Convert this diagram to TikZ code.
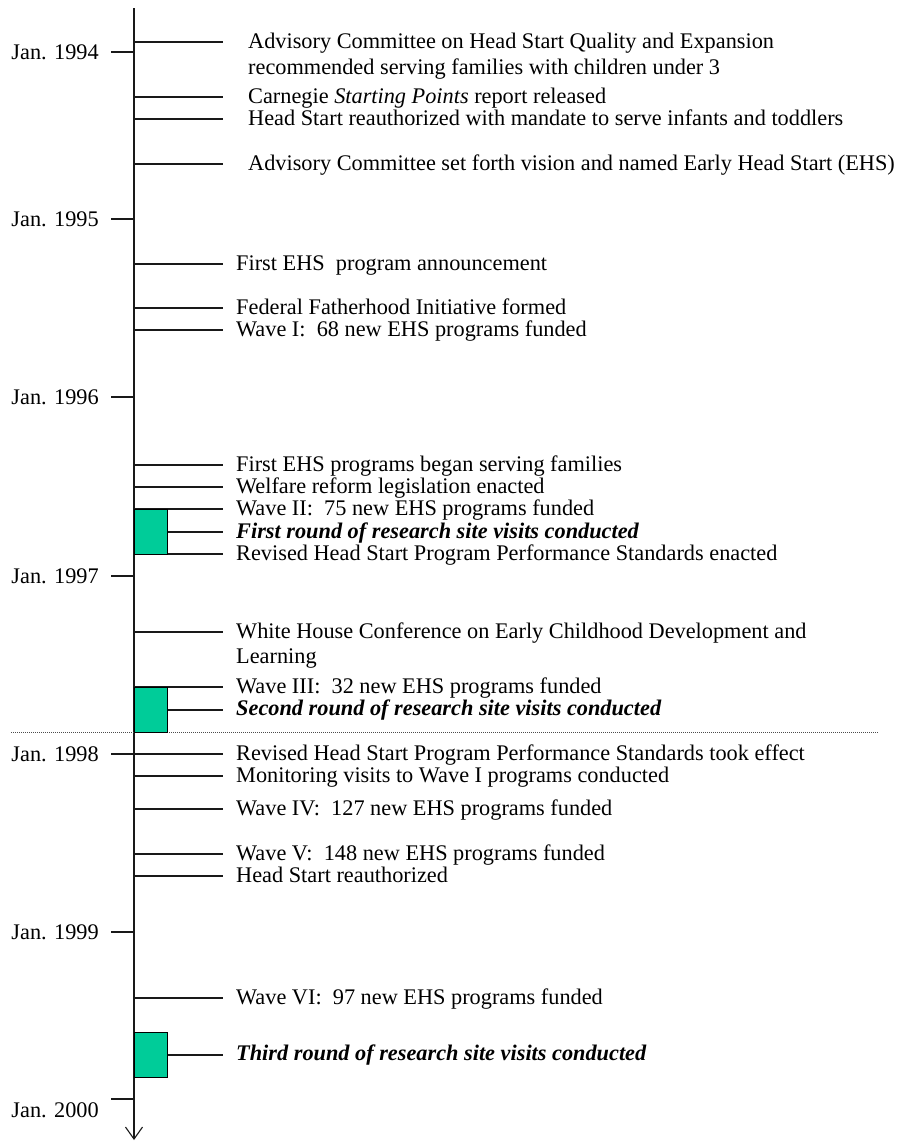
\documentclass[tikz,border=0pt]{standalone}
\usepackage{fontspec}
\setmainfont{Liberation Serif}
\usetikzlibrary{arrows.meta}
\definecolor{visitgreen}{RGB}{0,204,153}
\newcommand\evline[4]{% name, y, text x, text
  \coordinate (a#1) at (134,#2);
  \node[evtext] (#1) at (#3,#2+6.5) {#4};
  \draw[rule] (a#1) -- (a#1 -| lineend);}
\newcommand\yearmark[4]{% name, tick y, label baseline y, year
  \coordinate (y#1) at (134,#2);
  \node[yeartext] (l#1) at (99,#3) {Jan. #4};
  \draw[rule] (y#1) -- ++(-23,0);}
\begin{document}
\begin{tikzpicture}[x=1pt,y=-1pt,
  rule/.style={line width=1.1pt, draw=black!90},
  evtext/.style={anchor=base west, inner sep=0pt, font=\fontsize{22.3}{25.5}\selectfont},
  yeartext/.style={anchor=base east, inner sep=0pt, font=\fontsize{22.3}{25.5}\selectfont},
  visitbox/.style={fill=visitgreen, draw=black, line width=1pt, inner sep=0pt,
    minimum width=33pt, minimum height=45pt, anchor=north west},
  sep/.style={line width=0.9pt, draw=black!70, dash pattern=on 1pt off 1pt},
]
\useasboundingbox (0,0) rectangle (903,1141);
\coordinate (lineend) at (223,0);
% axis
\coordinate (atop) at (134,8);
\coordinate (abot) at (134,1140);
\draw[rule, -{Straight Barb[length=12pt,width=17pt]}] (atop) -- (abot);
% separator
\coordinate (sl) at (11,732);
\coordinate (sr) at (878,732);
\draw[sep] (sl) -- (sr);
% years
\yearmark{94}{52}{59.5}{1994}
\yearmark{95}{219}{226.5}{1995}
\yearmark{96}{397}{404.5}{1996}
\yearmark{97}{576}{583.5}{1997}
\yearmark{98}{754}{761.5}{1998}
\yearmark{99}{932}{939.5}{1999}
\yearmark{00}{1099}{1117}{2000}
% events
\evline{e1}{42}{248}{Advisory Committee on Head Start Quality and Expansion}
\node[evtext] (e1b) at (248,42+32) {recommended serving families with children under 3};
\evline{e2}{97}{248}{Carnegie \textit{Starting Points} report released}
\evline{e3}{119}{248}{Head Start reauthorized with mandate to serve infants and toddlers}
\evline{e4}{164}{248}{Advisory Committee set forth vision and named Early Head Start (EHS)}
\evline{e5}{264}{236}{First EHS\ \ program announcement}
\evline{e6}{308}{236}{Federal Fatherhood Initiative formed}
\evline{e7}{330}{236}{Wave I:\ \ 68 new EHS programs funded}
\evline{e8}{465}{236}{First EHS programs began serving families}
\evline{e9}{487}{236}{Welfare reform legislation enacted}
\evline{e10}{509}{236}{Wave II:\ \ 75 new EHS programs funded}
\evline{e12}{554}{236}{Revised Head Start Program Performance Standards enacted}
\evline{e13}{632}{236}{White House Conference on Early Childhood Development and}
\node[evtext] (e13b) at (236,632+31) {Learning};
\evline{e14}{687}{236}{Wave III:\ \ 32 new EHS programs funded}
\evline{e16}{754}{236}{Revised Head Start Program Performance Standards took effect}
\evline{e17}{776}{236}{Monitoring visits to Wave I programs conducted}
\evline{e18}{809}{236}{Wave IV:\ \ 127 new EHS programs funded}
\evline{e19}{854}{236}{Wave V:\ \ 148 new EHS programs funded}
\evline{e20}{876}{236}{Head Start reauthorized}
\evline{e21}{998}{236}{Wave VI:\ \ 97 new EHS programs funded}
% research site visits
\node[visitbox] (b1) at (134,509) {};
\node[visitbox] (b2) at (134,687) {};
\node[visitbox] (b3) at (134,1032) {};
\node[evtext] (r1) at (236,532+6.5) {\textbf{\textit{First round of research site visits conducted}}};
\node[evtext] (r2) at (236,709+6.5) {\textbf{\textit{Second round of research site visits conducted}}};
\node[evtext] (r3) at (236,1054+6.5) {\textbf{\textit{Third round of research site visits conducted}}};
\draw[rule] (b1.east) -- (b1.east -| lineend);
\draw[rule] (b2.east) -- (b2.east -| lineend);
\draw[rule] (b3.east) -- (b3.east -| lineend);
\end{tikzpicture}
\end{document}
